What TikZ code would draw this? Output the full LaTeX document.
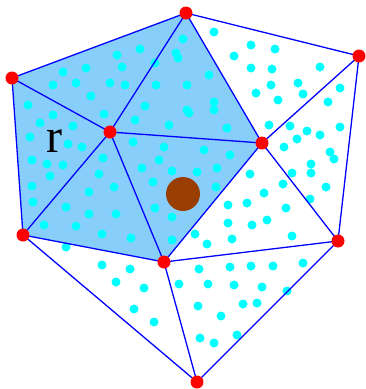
\documentclass[tikz,border=0pt]{standalone}
\usepackage{amsmath}
\usepackage{fontspec}
\usepackage{tikz}
\usetikzlibrary{calc}
\newfontfamily\labelfont{Liberation Serif}
\definecolor{paleblue}{RGB}{135,206,250}
\definecolor{aqua}{RGB}{0,255,255}
\definecolor{rust}{RGB}{153,61,0}
\tikzset{
dot/.style = {circle, fill, minimum size=#1,
              inner sep=0pt, outer sep=0pt},
dot/.default = 13pt % size of the circle diameter
}
\newcommand{\vtx}[2]{\node[dot, red] (#1) at (#2) {};}
\newcommand{\edg}[2]{\draw[blue, line width=1.3pt] (#1) -- (#2);}

\begin{document}
\begin{tikzpicture}[x=1pt, y=-1pt]
        \useasboundingbox (0,0) rectangle (365,389);
        % vertex positions
        \coordinate (a) at (186,13);
        \coordinate (b) at (12,78);
        \coordinate (c) at (359,56);
        \coordinate (d) at (110,132);
        \coordinate (e) at (262,143);
        \coordinate (f) at (23,235);
        \coordinate (g) at (338,241);
        \coordinate (h) at (164,262);
        \coordinate (i) at (197,382);
        % shaded star of the inner vertex
        \fill[paleblue] (a) -- (b) -- (f) -- (h) -- (e) -- cycle;
        % samples
        \foreach \x/\y [count=\k] in {183/39,117/55,140/49,176/53,178/58,155/63,63/72,86/68,
            122/67,53/85,76/83,110/83,125/85,156/85,187/85,91/96,28/105,145/106,187/110,
            189/113,53/115,104/114,40/123,73/126,135/120,169/125,30/137,68/144,82/147,
            133/142,164/147,32/160,47/164,63/165,103/158,142/168,159/160,172/171,50/176,
            99/174,153/182,32/186,114/187,89/192,214/32,251/45,275/49,234/56,320/67,
            251/68,272/69,209/75,298/83,271/85,340/88,256/93,303/94,278/100,328/102,
            214/102,214/110,227/128,269/125,290/126,307/131,340/127,320/135,297/139,
            284/147,204/150,230/155,330/152,334/159,311/164,217/168,197/172,292/173,
            311/173,250/174,216/187,283/184,326/187,264/193,310/199,33/202,66/207,
            89/214,116/214,155/208,172/217,44/225,76/226,102/234,131/238,172/240,
            66/247,102/265,130/269,116/282,144/288,179/284,134/309,154/322,228/205,
            247/203,286/208,228/223,252/225,267/220,195/234,207/244,232/239,292/236,
            199/269,230/267,251/266,273/266,303/263,208/284,234/285,262/287,287/291,
            198/306,243/304,257/303,221/316,200/338,214/343,237/335}
            \node[dot=9pt, aqua] (s\k) at (\x,\y) {};
        \node[dot=34pt, rust] (q) at (183,194) {};
        \edg{a}{b};
        \edg{a}{c};
        \edg{a}{d};
        \edg{a}{e};
        \edg{b}{d};
        \edg{b}{f};
        \edg{d}{e};
        \edg{d}{f};
        \edg{d}{h};
        \edg{e}{h};
        \edg{f}{h};
        \edg{c}{e};
        \edg{e}{g};
        \edg{c}{g};
        \edg{h}{g};
        \edg{f}{i};
        \edg{h}{i};
        \edg{g}{i};
        \vtx{A}{a};
        \vtx{B}{b};
        \vtx{C}{c};
        \vtx{D}{d};
        \vtx{E}{e};
        \vtx{F}{f};
        \vtx{G}{g};
        \vtx{H}{h};
        \vtx{I}{i};
        \node[font=\labelfont\fontsize{48}{48}\selectfont, inner sep=0pt] (r) at (54,141) {r};
\end{tikzpicture}
\end{document}
